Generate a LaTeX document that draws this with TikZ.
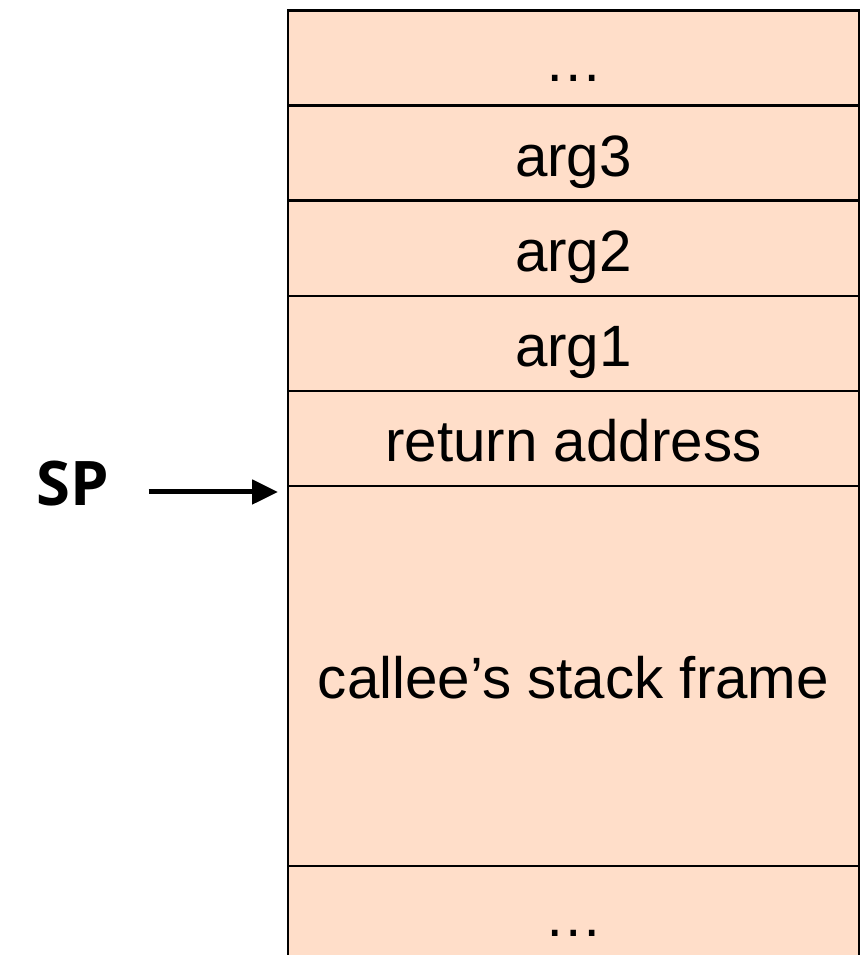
\documentclass[tikz,border=0pt]{standalone}
\usepackage{fontspec}
\setmainfont{Liberation Sans}
\newfontfamily\labelfont{Open Sans}
\usetikzlibrary{positioning, arrows.meta}
\definecolor{cellfill}{HTML}{FFDEC9}

\begin{document}
\begin{tikzpicture}[
  cell/.style={draw, fill=cellfill, line width=1.7pt, minimum width=11.42cm,
    minimum height=1.9cm, inner sep=0pt, outer sep=0pt,
    text height=1.2cm, text depth=0.28cm, font=\fontsize{33.2}{40}\selectfont},
  pointer/.style={-{Triangle[length=0.52cm, width=0.48cm]}, line width=0.1cm}
]
\useasboundingbox (0,0) rectangle (17.22,19.1);
\clip (0,0) rectangle (17.22,19.1);

% stack cells
\node[cell, anchor=north west] (top) at (5.76,18.88) {…};
\node[cell, below=0pt of top] (arg3) {arg3};
\node[cell, below=0pt of arg3] (arg2) {arg2};
\node[cell, below=0pt of arg2] (arg1) {arg1};
\node[cell, below=0pt of arg1] (ret) {return address};
\node[cell, below=0pt of ret, minimum height=7.6cm] (callee) {callee’s stack frame};
\node[cell, below=0pt of callee] (bottom) {…};

% stack pointer
\node[font=\labelfont\bfseries\fontsize{35}{42}\selectfont, inner sep=0pt] (sp) at (1.46,9.42) {SP};
\coordinate (tip) at ([xshift=-0.2cm, yshift=-0.12cm]callee.north west);
\draw[pointer, shorten <=0.78cm] (sp.east |- tip) -- (tip);
\end{tikzpicture}
\end{document}
